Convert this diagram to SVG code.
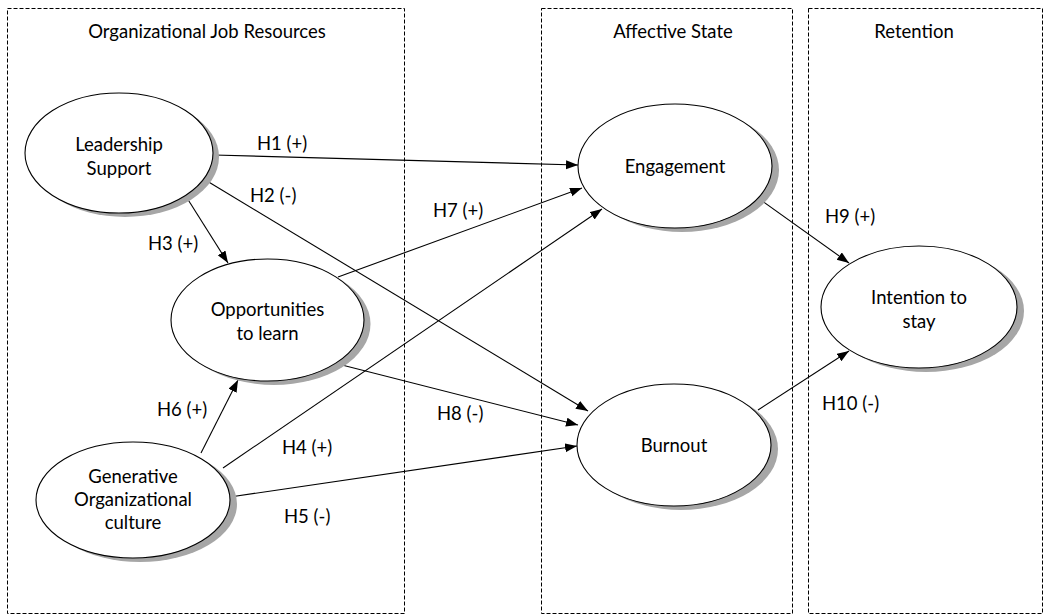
<svg xmlns="http://www.w3.org/2000/svg" width="1044" height="615" viewBox="0 0 1044 615">
<style>
text{font-family:Lato,"Open Sans","Liberation Sans",sans-serif;font-size:18.5px;fill:#000}
.c{text-anchor:middle}
.box{fill:none;stroke:#000;stroke-width:1;stroke-dasharray:4 2}
.sh{fill:#a6a6a6}
.el{fill:#fff;stroke:#000;stroke-width:1.1}
.ln{stroke:#000;stroke-width:1.1;fill:none;marker-end:url(#ah)}
</style>
<defs>
<marker id="ah" markerUnits="userSpaceOnUse" markerWidth="13" markerHeight="10" refX="12" refY="4.5" orient="auto"><path d="M0,0 L12,4.5 L0,9 z" fill="#000"/></marker>
</defs>
<rect width="1044" height="615" fill="#fff"/>
<g id="groups">
<rect class="box" x="7.5" y="8.5" width="397" height="605"/>
<text class="c" x="207" y="38">Organizational Job Resources</text>
<rect class="box" x="541.5" y="8.5" width="251" height="605"/>
<text class="c" x="673" y="38">Affective State</text>
<rect class="box" x="808.5" y="8.5" width="234" height="605"/>
<text class="c" x="914" y="38">Retention</text>
</g>
<g id="connectors">
<line class="ln" x1="214" y1="155" x2="578" y2="165"/>
<line class="ln" x1="207" y1="181" x2="588" y2="411"/>
<line class="ln" x1="187" y1="198" x2="228" y2="263"/>
<line class="ln" x1="338" y1="277" x2="582" y2="188"/>
<line class="ln" x1="223" y1="468" x2="602" y2="209"/>
<line class="ln" x1="338" y1="364" x2="578" y2="425"/>
<line class="ln" x1="230" y1="497" x2="577" y2="446"/>
<line class="ln" x1="201" y1="453" x2="238" y2="380"/>
<line class="ln" x1="758" y1="198" x2="849" y2="263"/>
<line class="ln" x1="758" y1="410" x2="849" y2="351"/>
<text x="257" y="150">H1 (+)</text>
<text x="250" y="202">H2 (-)</text>
<text x="148" y="250">H3 (+)</text>
<text x="433" y="217">H7 (+)</text>
<text x="157" y="416">H6 (+)</text>
<text x="282" y="454">H4 (+)</text>
<text x="437" y="420">H8 (-)</text>
<text x="284" y="523">H5 (-)</text>
<text x="825" y="223">H9 (+)</text>
<text x="822" y="410">H10 (-)</text>
</g>
<g id="leadership">
<ellipse class="sh" cx="125" cy="157" rx="94" ry="60"/>
<ellipse class="el" cx="119" cy="153" rx="94" ry="60"/>
<text class="c" x="119" y="151">Leadership</text>
<text class="c" x="119" y="175">Support</text>
</g>
<g id="opportunities">
<ellipse class="sh" cx="274" cy="324" rx="96.5" ry="61"/>
<ellipse class="el" cx="267.5" cy="320" rx="96.5" ry="61"/>
<text class="c" x="267.5" y="316">Opportunities</text>
<text class="c" x="267.5" y="340">to learn</text>
</g>
<g id="generative">
<ellipse class="sh" cx="140" cy="504" rx="97" ry="58"/>
<ellipse class="el" cx="133" cy="500" rx="97" ry="58"/>
<text class="c" x="133" y="483">Generative</text>
<text class="c" x="133" y="506">Organizational</text>
<text class="c" x="133" y="529">culture</text>
</g>
<g id="engagement">
<ellipse class="sh" cx="682" cy="170" rx="97" ry="62"/>
<ellipse class="el" cx="675" cy="166" rx="97" ry="62"/>
<text class="c" x="675" y="173">Engagement</text>
</g>
<g id="burnout">
<ellipse class="sh" cx="681" cy="449" rx="97" ry="61"/>
<ellipse class="el" cx="674" cy="445" rx="97" ry="61"/>
<text class="c" x="674" y="452">Burnout</text>
</g>
<g id="intention">
<ellipse class="sh" cx="926" cy="311" rx="98" ry="61"/>
<ellipse class="el" cx="919" cy="307" rx="98" ry="61"/>
<text class="c" x="919" y="304">Intention to</text>
<text class="c" x="919" y="328">stay</text>
</g>
</svg>
